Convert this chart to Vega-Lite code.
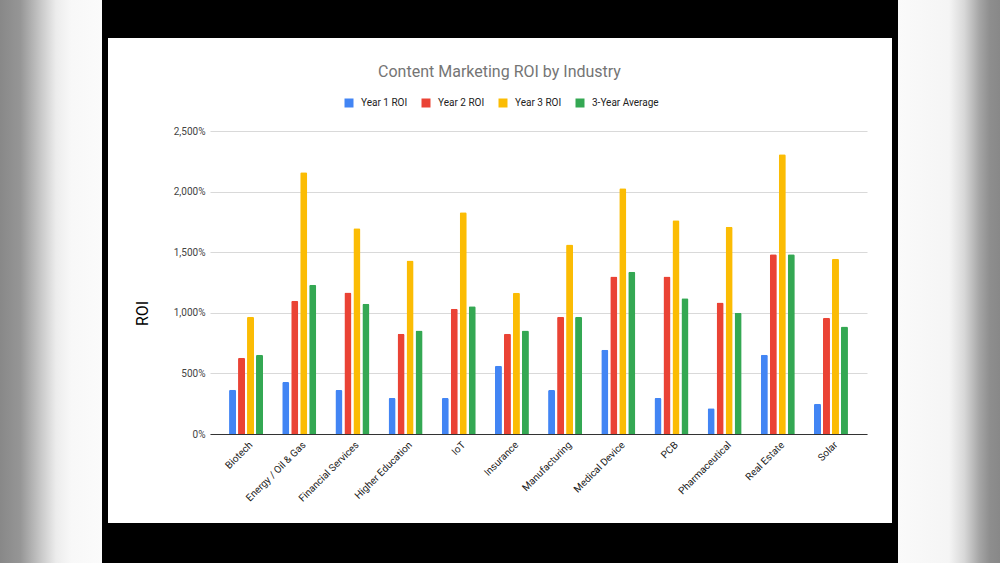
{
  "$schema": "https://vega.github.io/schema/vega-lite/v6.json",
  "background": "white",
  "padding": 0,
  "config": {
    "view": {"stroke": null},
    "font": "Roboto"
  },
  "data": {"values": [{"a": 0}]},
  "columns": 7,
  "spacing": 0,
  "bounds": "flush",
  "align": "each",
  "concat": [
    {"width": 102, "height": 38, "mark": {"type": "point", "opacity": 0}, "view": {"fill": {"gradient": "linear", "x1": 0, "x2": 1, "y1": 0, "y2": 0, "stops": [{"offset": 0, "color": "#888888"}, {"offset": 0.2, "color": "#969696"}, {"offset": 0.4, "color": "#c8c8c8"}, {"offset": 0.55, "color": "#ececec"}, {"offset": 0.7, "color": "#f8f8f8"}, {"offset": 1, "color": "#fbfbfb"}]}}},
    {"width": 6, "height": 38, "mark": {"type": "point", "opacity": 0}, "view": {"fill": "#000000"}},
    {"width": 102, "height": 38, "mark": {"type": "point", "opacity": 0}, "view": {"fill": "#000000"}},
    {"width": 657, "height": 38, "mark": {"type": "point", "opacity": 0}, "view": {"fill": "#000000"}},
    {"width": 25, "height": 38, "mark": {"type": "point", "opacity": 0}, "view": {"fill": "#000000"}},
    {"width": 6, "height": 38, "mark": {"type": "point", "opacity": 0}, "view": {"fill": "#000000"}},
    {"width": 102, "height": 38, "mark": {"type": "point", "opacity": 0}, "view": {"fill": {"gradient": "linear", "x1": 0, "x2": 1, "y1": 0, "y2": 0, "stops": [{"offset": 0, "color": "#fafafa"}, {"offset": 0.5, "color": "#f5f5f5"}, {"offset": 0.65, "color": "#d8d8d8"}, {"offset": 0.8, "color": "#a5a5a5"}, {"offset": 0.9, "color": "#8e8e8e"}, {"offset": 1, "color": "#888888"}]}}},

    {"width": 102, "height": 93, "mark": {"type": "point", "opacity": 0}, "view": {"fill": {"gradient": "linear", "x1": 0, "x2": 1, "y1": 0, "y2": 0, "stops": [{"offset": 0, "color": "#888888"}, {"offset": 0.2, "color": "#969696"}, {"offset": 0.4, "color": "#c8c8c8"}, {"offset": 0.55, "color": "#ececec"}, {"offset": 0.7, "color": "#f8f8f8"}, {"offset": 1, "color": "#fbfbfb"}]}}},
    {"width": 6, "height": 93, "mark": {"type": "point", "opacity": 0}, "view": {"fill": "#000000"}},
    {"width": 102, "height": 93, "mark": {"type": "point", "opacity": 0}},
    {"width": 657, "height": 93, "mark": {"type": "point", "opacity": 0}},
    {"width": 25, "height": 93, "mark": {"type": "point", "opacity": 0}},
    {"width": 6, "height": 93, "mark": {"type": "point", "opacity": 0}, "view": {"fill": "#000000"}},
    {"width": 102, "height": 93, "mark": {"type": "point", "opacity": 0}, "view": {"fill": {"gradient": "linear", "x1": 0, "x2": 1, "y1": 0, "y2": 0, "stops": [{"offset": 0, "color": "#fafafa"}, {"offset": 0.5, "color": "#f5f5f5"}, {"offset": 0.65, "color": "#d8d8d8"}, {"offset": 0.8, "color": "#a5a5a5"}, {"offset": 0.9, "color": "#8e8e8e"}, {"offset": 1, "color": "#888888"}]}}},

    {"width": 102, "height": 303, "mark": {"type": "point", "opacity": 0}, "view": {"fill": {"gradient": "linear", "x1": 0, "x2": 1, "y1": 0, "y2": 0, "stops": [{"offset": 0, "color": "#888888"}, {"offset": 0.2, "color": "#969696"}, {"offset": 0.4, "color": "#c8c8c8"}, {"offset": 0.55, "color": "#ececec"}, {"offset": 0.7, "color": "#f8f8f8"}, {"offset": 1, "color": "#fbfbfb"}]}}},
    {"width": 6, "height": 303, "mark": {"type": "point", "opacity": 0}, "view": {"fill": "#000000"}},
    {"width": 102, "height": 303, "mark": {"type": "point", "opacity": 0}},
    {
      "width": 657, "height": 303,
      "title": {"text": "Content Marketing ROI by Industry", "anchor": "middle", "frame": "group", "dx": -39, "offset": 33, "baseline": "alphabetic", "fontSize": 16, "fontWeight": "normal", "color": "#757575", "font": "Roboto"},
      "data": {"values": [
        {"industry": "Biotech", "series": "Year 1 ROI", "roi": 365},
        {"industry": "Biotech", "series": "Year 2 ROI", "roi": 629},
        {"industry": "Biotech", "series": "Year 3 ROI", "roi": 967},
        {"industry": "Biotech", "series": "3-Year Average", "roi": 654},
        {"industry": "Energy / Oil & Gas", "series": "Year 1 ROI", "roi": 429},
        {"industry": "Energy / Oil & Gas", "series": "Year 2 ROI", "roi": 1099},
        {"industry": "Energy / Oil & Gas", "series": "Year 3 ROI", "roi": 2159},
        {"industry": "Energy / Oil & Gas", "series": "3-Year Average", "roi": 1231},
        {"industry": "Financial Services", "series": "Year 1 ROI", "roi": 363},
        {"industry": "Financial Services", "series": "Year 2 ROI", "roi": 1168},
        {"industry": "Financial Services", "series": "Year 3 ROI", "roi": 1698},
        {"industry": "Financial Services", "series": "3-Year Average", "roi": 1074},
        {"industry": "Higher Education", "series": "Year 1 ROI", "roi": 297},
        {"industry": "Higher Education", "series": "Year 2 ROI", "roi": 827},
        {"industry": "Higher Education", "series": "Year 3 ROI", "roi": 1431},
        {"industry": "Higher Education", "series": "3-Year Average", "roi": 854},
        {"industry": "IoT", "series": "Year 1 ROI", "roi": 297},
        {"industry": "IoT", "series": "Year 2 ROI", "roi": 1033},
        {"industry": "IoT", "series": "Year 3 ROI", "roi": 1830},
        {"industry": "IoT", "series": "3-Year Average", "roi": 1055},
        {"industry": "Insurance", "series": "Year 1 ROI", "roi": 563},
        {"industry": "Insurance", "series": "Year 2 ROI", "roi": 827},
        {"industry": "Insurance", "series": "Year 3 ROI", "roi": 1165},
        {"industry": "Insurance", "series": "3-Year Average", "roi": 854},
        {"industry": "Manufacturing", "series": "Year 1 ROI", "roi": 363},
        {"industry": "Manufacturing", "series": "Year 2 ROI", "roi": 967},
        {"industry": "Manufacturing", "series": "Year 3 ROI", "roi": 1563},
        {"industry": "Manufacturing", "series": "3-Year Average", "roi": 967},
        {"industry": "Medical Device", "series": "Year 1 ROI", "roi": 695},
        {"industry": "Medical Device", "series": "Year 2 ROI", "roi": 1299},
        {"industry": "Medical Device", "series": "Year 3 ROI", "roi": 2027},
        {"industry": "Medical Device", "series": "3-Year Average", "roi": 1338},
        {"industry": "PCB", "series": "Year 1 ROI", "roi": 297},
        {"industry": "PCB", "series": "Year 2 ROI", "roi": 1299},
        {"industry": "PCB", "series": "Year 3 ROI", "roi": 1764},
        {"industry": "PCB", "series": "3-Year Average", "roi": 1121},
        {"industry": "Pharmaceutical", "series": "Year 1 ROI", "roi": 212},
        {"industry": "Pharmaceutical", "series": "Year 2 ROI", "roi": 1085},
        {"industry": "Pharmaceutical", "series": "Year 3 ROI", "roi": 1709},
        {"industry": "Pharmaceutical", "series": "3-Year Average", "roi": 1000},
        {"industry": "Real Estate", "series": "Year 1 ROI", "roi": 654},
        {"industry": "Real Estate", "series": "Year 2 ROI", "roi": 1484},
        {"industry": "Real Estate", "series": "Year 3 ROI", "roi": 2308},
        {"industry": "Real Estate", "series": "3-Year Average", "roi": 1484},
        {"industry": "Solar", "series": "Year 1 ROI", "roi": 250},
        {"industry": "Solar", "series": "Year 2 ROI", "roi": 959},
        {"industry": "Solar", "series": "Year 3 ROI", "roi": 1445},
        {"industry": "Solar", "series": "3-Year Average", "roi": 887}
      ]},
      "mark": {"type": "bar", "cornerRadiusTopLeft": 1.5, "cornerRadiusTopRight": 1.5},
      "encoding": {
        "x": {
          "field": "industry", "type": "nominal", "sort": null,
          "scale": {"paddingInner": 0.361, "paddingOuter": 0.358},
          "axis": {"title": null, "labelAngle": -45, "labelAlign": "right", "labelBaseline": "middle", "labelPadding": 9, "labelOffset": 5, "labelFontSize": 10, "labelColor": "#222222", "labelFont": "Roboto", "ticks": false, "domainColor": "#333333", "domainWidth": 1, "labelLimit": 200}
        },
        "xOffset": {
          "field": "series", "type": "nominal",
          "sort": ["Year 1 ROI", "Year 2 ROI", "Year 3 ROI", "3-Year Average"],
          "scale": {"paddingInner": 0.22, "paddingOuter": 0}
        },
        "y": {
          "field": "roi", "type": "quantitative",
          "scale": {"domain": [0, 2500], "nice": false},
          "axis": {"title": "ROI", "titleFontSize": 16, "titleFontWeight": "normal", "titleColor": "#000000", "titleFont": "Roboto", "titleX": -68, "titleY": 182, "titleAngle": -90, "titleAlign": "center", "titleBaseline": "middle",
            "values": [0, 500, 1000, 1500, 2000, 2500], "labelExpr": "format(datum.value, ',') + '%'",
            "labelFontSize": 10, "labelColor": "#444444", "labelFont": "Roboto", "labelPadding": 5, "ticks": false, "domain": false,
            "gridColor": "#d9d9d9", "gridWidth": 1}
        },
        "color": {
          "field": "series", "type": "nominal",
          "scale": {"domain": ["Year 1 ROI", "Year 2 ROI", "Year 3 ROI", "3-Year Average"], "range": ["#4285F4", "#EA4335", "#FBBC04", "#34A853"]},
          "legend": {"title": null, "orient": "none", "direction": "horizontal", "legendX": 344, "legendY": 98, "padding": 0,
            "symbolType": "square", "symbolSize": 81, "symbolStrokeWidth": 0, "labelFontSize": 10, "labelColor": "#222222", "labelFont": "Roboto", "labelOffset": 7, "columnPadding": 13}
        }
      }
    },
    {"width": 25, "height": 303, "mark": {"type": "point", "opacity": 0}},
    {"width": 6, "height": 303, "mark": {"type": "point", "opacity": 0}, "view": {"fill": "#000000"}},
    {"width": 102, "height": 303, "mark": {"type": "point", "opacity": 0}, "view": {"fill": {"gradient": "linear", "x1": 0, "x2": 1, "y1": 0, "y2": 0, "stops": [{"offset": 0, "color": "#fafafa"}, {"offset": 0.5, "color": "#f5f5f5"}, {"offset": 0.65, "color": "#d8d8d8"}, {"offset": 0.8, "color": "#a5a5a5"}, {"offset": 0.9, "color": "#8e8e8e"}, {"offset": 1, "color": "#888888"}]}}},

    {"width": 102, "height": 89, "mark": {"type": "point", "opacity": 0}, "view": {"fill": {"gradient": "linear", "x1": 0, "x2": 1, "y1": 0, "y2": 0, "stops": [{"offset": 0, "color": "#888888"}, {"offset": 0.2, "color": "#969696"}, {"offset": 0.4, "color": "#c8c8c8"}, {"offset": 0.55, "color": "#ececec"}, {"offset": 0.7, "color": "#f8f8f8"}, {"offset": 1, "color": "#fbfbfb"}]}}},
    {"width": 6, "height": 89, "mark": {"type": "point", "opacity": 0}, "view": {"fill": "#000000"}},
    {"width": 102, "height": 89, "mark": {"type": "point", "opacity": 0}},
    {"width": 657, "height": 89, "mark": {"type": "point", "opacity": 0}},
    {"width": 25, "height": 89, "mark": {"type": "point", "opacity": 0}},
    {"width": 6, "height": 89, "mark": {"type": "point", "opacity": 0}, "view": {"fill": "#000000"}},
    {"width": 102, "height": 89, "mark": {"type": "point", "opacity": 0}, "view": {"fill": {"gradient": "linear", "x1": 0, "x2": 1, "y1": 0, "y2": 0, "stops": [{"offset": 0, "color": "#fafafa"}, {"offset": 0.5, "color": "#f5f5f5"}, {"offset": 0.65, "color": "#d8d8d8"}, {"offset": 0.8, "color": "#a5a5a5"}, {"offset": 0.9, "color": "#8e8e8e"}, {"offset": 1, "color": "#888888"}]}}},

    {"width": 102, "height": 40, "mark": {"type": "point", "opacity": 0}, "view": {"fill": {"gradient": "linear", "x1": 0, "x2": 1, "y1": 0, "y2": 0, "stops": [{"offset": 0, "color": "#888888"}, {"offset": 0.2, "color": "#969696"}, {"offset": 0.4, "color": "#c8c8c8"}, {"offset": 0.55, "color": "#ececec"}, {"offset": 0.7, "color": "#f8f8f8"}, {"offset": 1, "color": "#fbfbfb"}]}}},
    {"width": 6, "height": 40, "mark": {"type": "point", "opacity": 0}, "view": {"fill": "#000000"}},
    {"width": 102, "height": 40, "mark": {"type": "point", "opacity": 0}, "view": {"fill": "#000000"}},
    {"width": 657, "height": 40, "mark": {"type": "point", "opacity": 0}, "view": {"fill": "#000000"}},
    {"width": 25, "height": 40, "mark": {"type": "point", "opacity": 0}, "view": {"fill": "#000000"}},
    {"width": 6, "height": 40, "mark": {"type": "point", "opacity": 0}, "view": {"fill": "#000000"}},
    {"width": 102, "height": 40, "mark": {"type": "point", "opacity": 0}, "view": {"fill": {"gradient": "linear", "x1": 0, "x2": 1, "y1": 0, "y2": 0, "stops": [{"offset": 0, "color": "#fafafa"}, {"offset": 0.5, "color": "#f5f5f5"}, {"offset": 0.65, "color": "#d8d8d8"}, {"offset": 0.8, "color": "#a5a5a5"}, {"offset": 0.9, "color": "#8e8e8e"}, {"offset": 1, "color": "#888888"}]}}}
  ]
}
